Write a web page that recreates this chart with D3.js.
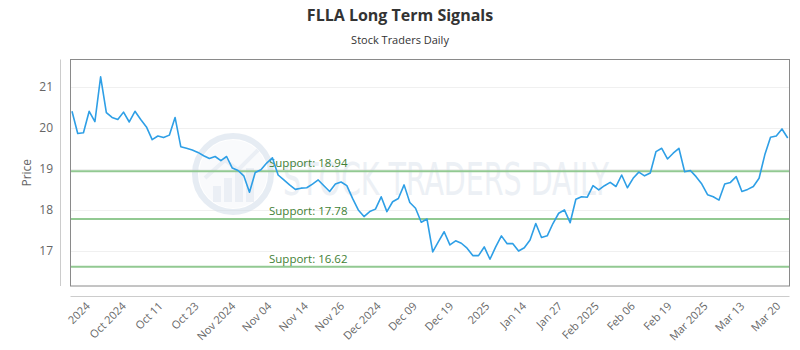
<!DOCTYPE html>
<html>
<head>
<meta charset="utf-8">
<script src="https://cdn.jsdelivr.net/npm/d3@7"></script>
<style>
  body { margin: 0; background: #fff; }
  svg { font-family: "Open Sans", "Noto Sans", sans-serif; }
</style>
</head>
<body>
<div id="chart"></div>
<script>
// closing prices, one per trading day
const prices = [
  20.40, 19.86, 19.88, 20.40, 20.15, 21.24, 20.37, 20.25, 20.20, 20.38,
  20.14, 20.40, 20.20, 20.02, 19.71, 19.80, 19.76, 19.82, 20.25, 19.54,
  19.50, 19.46, 19.40, 19.32, 19.25, 19.30, 19.20, 19.30, 19.02, 18.96,
  18.83, 18.43, 18.91, 18.98, 19.14, 19.27, 18.85, 18.73, 18.61, 18.50,
  18.53, 18.54, 18.63, 18.73, 18.59, 18.45, 18.63, 18.68, 18.59, 18.28,
  18.00, 17.84, 17.96, 18.02, 18.32, 17.96, 18.20, 18.28, 18.61, 18.18,
  18.04, 17.70, 17.78, 16.98, 17.23, 17.47, 17.15, 17.25, 17.19, 17.07,
  16.89, 16.89, 17.10, 16.80, 17.10, 17.37, 17.18, 17.18, 17.00, 17.08,
  17.27, 17.67, 17.33, 17.37, 17.67, 17.92, 18.00, 17.69, 18.26, 18.32,
  18.31, 18.59, 18.49, 18.59, 18.67, 18.57, 18.85, 18.54, 18.77, 18.92,
  18.83, 18.90, 19.42, 19.50, 19.24, 19.38, 19.50, 18.93, 18.96, 18.81,
  18.63, 18.37, 18.32, 18.24, 18.63, 18.67, 18.81, 18.45, 18.50, 18.57,
  18.77, 19.34, 19.77, 19.80, 19.97, 19.75
];

const tickLabels = ['2024', 'Oct 2024', 'Oct 11', 'Oct 23', 'Nov 2024', 'Nov 04', 'Nov 14',
  'Nov 26', 'Dec 2024', 'Dec 09', 'Dec 19', '2025', 'Jan 14', 'Jan 27', 'Feb 2025',
  'Feb 06', 'Feb 19', 'Mar 2025', 'Mar 13', 'Mar 20'];
const tickIndex = [2.8, 9.1, 15.5, 21.8, 28.2, 34.5, 40.9, 47.2, 53.6, 59.9, 66.3,
  72.6, 79.0, 85.3, 91.7, 98.0, 104.4, 110.7, 117.1, 123.4];

const yTicks = [17, 18, 19, 20, 21];
const supports = [18.94, 17.78, 16.62];

const width = 800, height = 350;
const plot = {left: 70.5, right: 789.5, top: 59.5, bottom: 286};

const svg = d3.select('#chart').append('svg')
  .attr('width', width)
  .attr('height', height);

const x = d3.scaleLinear()
  .domain([0, prices.length - 1])
  .range([plot.left + 1.5, plot.right - 1.8]);

const y = d3.scaleLinear()
  .domain([16.15, 21.66])
  .range([plot.bottom, plot.top]);

// titles
svg.append('text')
  .attr('x', width / 2).attr('y', 21)
  .attr('text-anchor', 'middle')
  .style('font-size', '16px').style('font-weight', 'bold')
  .attr('fill', '#333')
  .text('FLLA Long Term Signals');

svg.append('text')
  .attr('x', width / 2).attr('y', 44)
  .attr('text-anchor', 'middle')
  .style('font-size', '11px')
  .attr('fill', '#333')
  .text('Stock Traders Daily');

// grid
svg.append('g')
  .selectAll('line')
  .data(yTicks)
  .join('line')
  .attr('x1', plot.left).attr('x2', plot.right)
  .attr('y1', d => Math.round(y(d)) + 0.5).attr('y2', d => Math.round(y(d)) + 0.5)
  .attr('stroke', '#f0f0f0');

// watermark
const wm = svg.append('g').attr('opacity', 0.45);
wm.append('circle')
  .attr('cx', 233).attr('cy', 174).attr('r', 38)
  .attr('fill', 'none').attr('stroke', '#c9d6e6').attr('stroke-width', 6);
wm.append('circle')
  .attr('cx', 233).attr('cy', 174).attr('r', 34)
  .attr('fill', '#f2f5f9');
[[-20, 8], [-9, 0], [2, -6], [13, -10]].forEach(([dx, h]) => {
  wm.append('rect')
    .attr('x', 233 + dx).attr('y', 180 + h - 2)
    .attr('width', 8).attr('height', 24 - h)
    .attr('fill', '#d3dde9');
});
wm.append('path')
  .attr('d', 'M205,178 L225,160 L238,170 L258,150')
  .attr('fill', 'none').attr('stroke', '#d3dde9').attr('stroke-width', 4);
wm.append('text')
  .attr('x', 283).attr('y', 195)
  .attr('textLength', 326).attr('lengthAdjust', 'spacingAndGlyphs')
  .style('font-size', '44px')
  .style('font-family', '"DejaVu Sans Condensed", "Roboto", sans-serif')
  .attr('fill', '#d6dee9')
  .text('STOCK TRADERS DAILY');

// support lines
const sup = svg.append('g');
sup.selectAll('line')
  .data(supports)
  .join('line')
  .attr('x1', plot.left).attr('x2', plot.right)
  .attr('y1', d => y(d)).attr('y2', d => y(d))
  .attr('stroke', '#92c992').attr('stroke-width', 2);
sup.selectAll('text')
  .data(supports)
  .join('text')
  .attr('x', plot.left + 198.5)
  .attr('y', d => y(d) - 4)
  .style('font-size', '11.5px')
  .attr('fill', '#3f7f35')
  .text(d => `Support: ${d.toFixed(2)}`);

// price line
const line = d3.line()
  .x((d, i) => x(i))
  .y(d => y(d));

svg.append('path')
  .datum(prices)
  .attr('d', line)
  .attr('fill', 'none')
  .attr('stroke', '#2e9fe6')
  .attr('stroke-width', 1.6)
  .attr('stroke-linejoin', 'round');

// frame
svg.append('rect')
  .attr('x', plot.left).attr('y', plot.top)
  .attr('width', plot.right - plot.left).attr('height', plot.bottom - plot.top)
  .attr('fill', 'none').attr('stroke', '#8a8a8a');

// offset axis lines
svg.append('line')
  .attr('x1', 60.5).attr('x2', 60.5)
  .attr('y1', plot.top).attr('y2', plot.bottom)
  .attr('stroke', '#cccccc');
svg.append('line')
  .attr('x1', plot.left).attr('x2', plot.right)
  .attr('y1', 296.5).attr('y2', 296.5)
  .attr('stroke', '#cccccc');

// y axis
const yAxis = d3.axisLeft(y)
  .tickValues(yTicks)
  .tickSize(0)
  .tickPadding(0)
  .tickFormat(d3.format('d'));

svg.append('g')
  .attr('transform', 'translate(53,0)')
  .call(yAxis)
  .call(g => g.select('.domain').remove())
  .call(g => g.selectAll('text')
    .attr('fill', '#666')
    .style('font-size', '12px')
    .style('font-family', '"Open Sans", sans-serif'));

svg.append('text')
  .attr('transform', `translate(31,${(plot.top + plot.bottom) / 2}) rotate(-90)`)
  .attr('text-anchor', 'middle')
  .style('font-size', '12px')
  .attr('fill', '#666')
  .text('Price');

// x axis labels
const xAxis = d3.axisBottom(x)
  .tickValues(tickIndex)
  .tickSize(0)
  .tickFormat((d, i) => tickLabels[i]);

svg.append('g')
  .attr('transform', 'translate(0,309)')
  .call(xAxis)
  .call(g => g.select('.domain').remove())
  .call(g => g.selectAll('text')
    .attr('y', 0)
    .attr('dy', 0)
    .attr('x', 3)
    .attr('text-anchor', 'end')
    .attr('transform', 'rotate(-45)')
    .attr('fill', '#666')
    .style('font-size', '11px')
    .style('font-family', '"Open Sans", sans-serif'));
</script>
</body>
</html>
